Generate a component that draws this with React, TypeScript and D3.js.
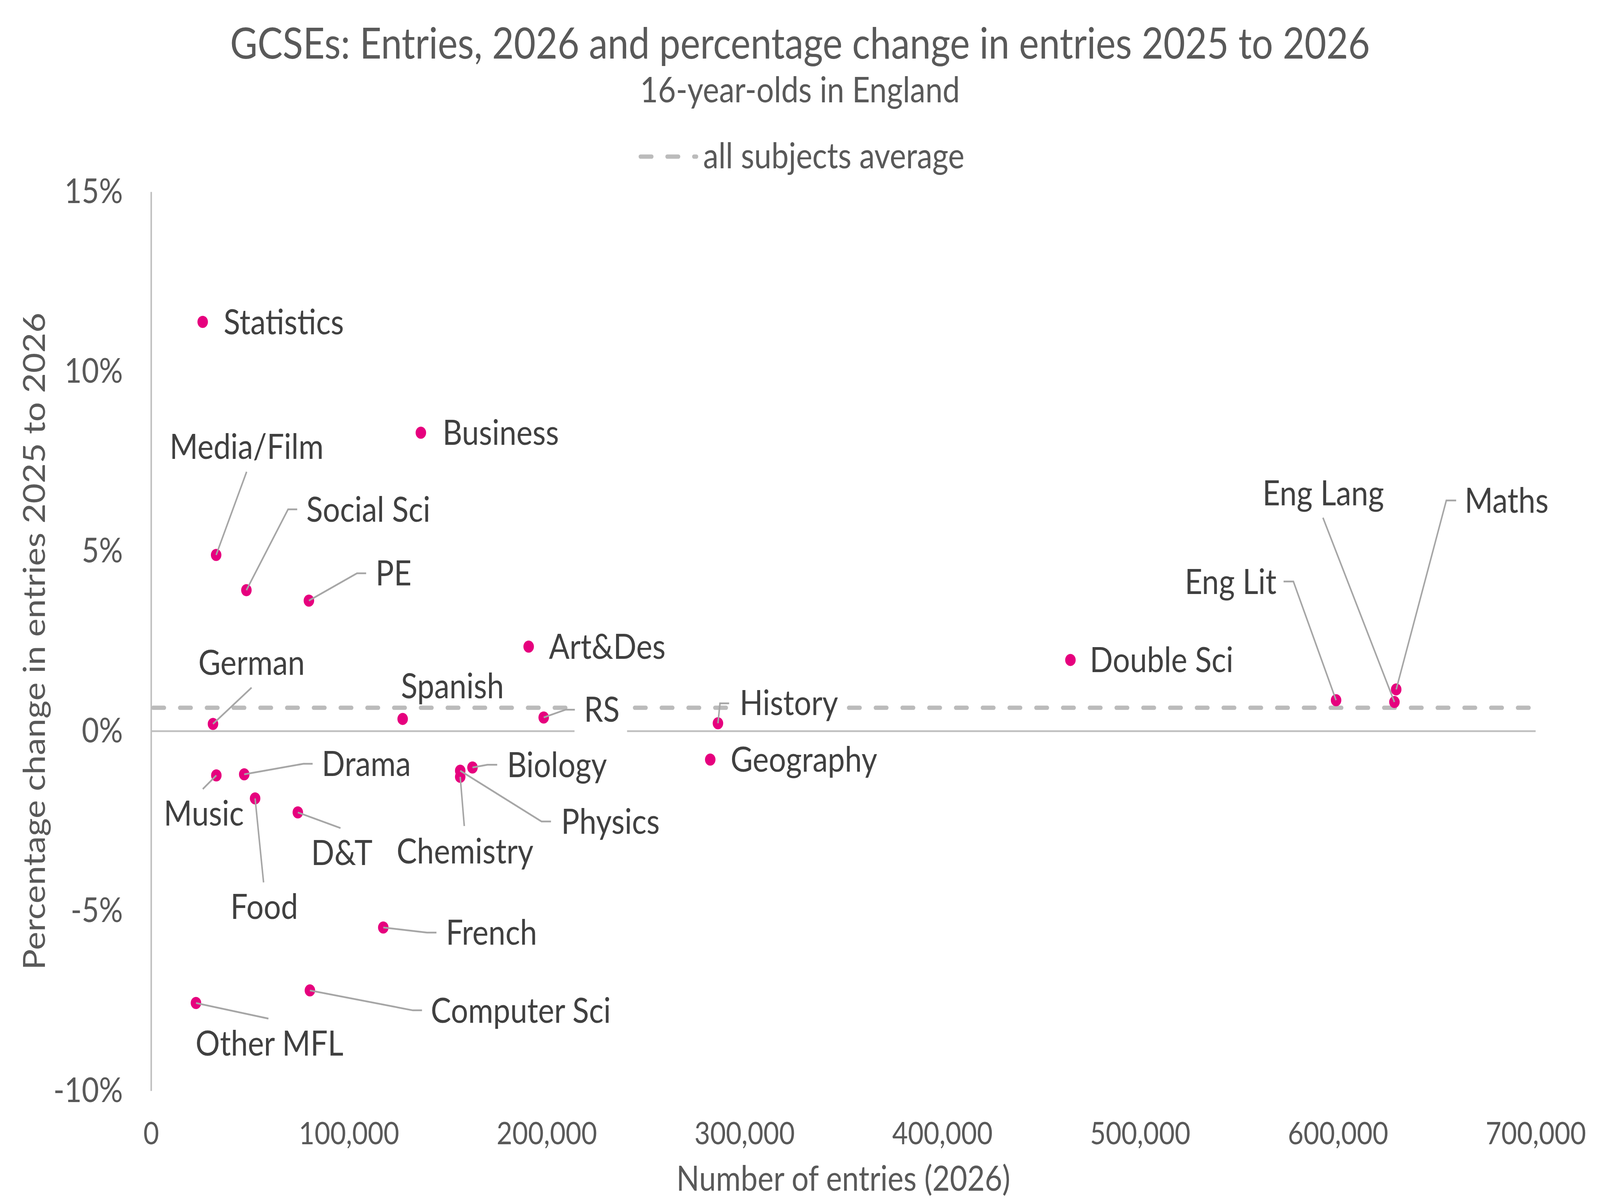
import React, { useEffect, useRef } from "react"
import * as d3 from "d3"

// GCSE entries 2026 and % change 2025 -> 2026, 16-year-olds in England
const subjects = [
  "Statistics", "Business", "Media/Film", "Social Sci", "PE", "Art&Des",
  "German", "Spanish", "RS", "History", "Geography", "Double Sci",
  "Eng Lit", "Eng Lang", "Maths", "Music", "Drama", "Food", "D&T",
  "Biology", "Physics", "Chemistry", "French", "Computer Sci", "Other MFL",
]
const entries = [
  26100, 136400, 32900, 48200, 79800, 190900,
  31300, 127200, 198500, 286600, 282700, 464800,
  599100, 628600, 629500, 33000, 47100, 52600, 74200,
  162500, 156300, 156300, 117400, 80300, 22700,
]
const pctChange = [
  11.38, 8.3, 4.9, 3.92, 3.63, 2.35,
  0.2, 0.34, 0.38, 0.22, -0.79, 1.98,
  0.86, 0.81, 1.16, -1.23, -1.2, -1.87, -2.26,
  -1.01, -1.1, -1.27, -5.46, -7.21, -7.56,
]
const averageChange = 0.65

const xTicks = [0, 100000, 200000, 300000, 400000, 500000, 600000, 700000]
const yTicks = [-10, -5, 0, 5, 10, 15]

const W = 4724
const H = 3083

type Layout = {
  dx: number
  dy: number
  anchor: "start" | "middle" | "end"
  leader?: [number, number][]
  mask?: boolean
}

// label placement relative to the point, in px
const labelLayout: Record<string, Layout> = {
  Statistics: { dx: 62, dy: 0, anchor: "start" },
  Business: { dx: 64, dy: 0, anchor: "start" },
  "Media/Film": { dx: 90, dy: -277, anchor: "middle", leader: [[0, 0], [90, -213]] },
  "Social Sci": { dx: 177, dy: -207, anchor: "start", leader: [[0, 0], [123, -207], [150, -207]] },
  PE: { dx: 197, dy: -70, anchor: "start", leader: [[0, 0], [142, -70], [169, -70]] },
  "Art&Des": { dx: 60, dy: 0, anchor: "start" },
  German: { dx: 114, dy: -157, anchor: "middle", leader: [[0, 0], [114, -93]] },
  Spanish: { dx: 147, dy: -84, anchor: "middle" },
  RS: { dx: 119, dy: -21, anchor: "start", leader: [[0, 0], [65, -20], [92, -20]], mask: true },
  History: { dx: 64, dy: -52, anchor: "start", leader: [[0, 0], [6, -51], [33, -51]], mask: true },
  Geography: { dx: 60, dy: 0, anchor: "start" },
  "Double Sci": { dx: 57, dy: 0, anchor: "start" },
  "Eng Lit": { dx: -176, dy: -304, anchor: "end", leader: [[0, 0], [-126, -304], [-155, -304]] },
  "Eng Lang": { dx: -210, dy: -535, anchor: "middle", leader: [[0, 0], [-211, -472]] },
  Maths: { dx: 202, dy: -484, anchor: "start", leader: [[0, 0], [148, -484], [177, -484]] },
  Music: { dx: -37, dy: 97, anchor: "middle", leader: [[0, 0], [-40, 35]] },
  Drama: { dx: 229, dy: -27, anchor: "start", leader: [[0, 0], [175, -27], [202, -27]] },
  Food: { dx: 27, dy: 277, anchor: "middle", leader: [[0, 0], [25, 215]] },
  "D&T": { dx: 130, dy: 103, anchor: "middle", leader: [[0, 0], [126, 40]] },
  Biology: { dx: 102, dy: -7, anchor: "start", leader: [[0, 0], [44, -7], [73, -7]] },
  Physics: { dx: 298, dy: 130, anchor: "start", leader: [[0, 0], [240, 130], [268, 130]] },
  Chemistry: { dx: 14, dy: 190, anchor: "middle", leader: [[0, 0], [12, 126]] },
  French: { dx: 185, dy: 13, anchor: "start", leader: [[0, 0], [129, 13], [157, 13]] },
  "Computer Sci": { dx: 357, dy: 51, anchor: "start", leader: [[0, 0], [304, 51], [331, 51]] },
  "Other MFL": { dx: 217, dy: 103, anchor: "middle", leader: [[0, 0], [214, 40]] },
}

const FONT = "Lato, 'Open Sans', sans-serif"
const PINK = "#E6007E"
const GRID = "#BFBFBF"
const DASH = "#BBBBBB"
const LEADER = "#A6A6A6"
const GREY_TEXT = "#595959"

export default function App() {
  const ref = useRef<SVGSVGElement>(null)

  useEffect(() => {
    if (!ref.current) return
    const svg = d3.select(ref.current)
    svg.selectAll("*").remove()

    const x = d3.scaleLinear().domain([0, 700000]).range([446, 4534])
    const y = d3.scaleLinear().domain([-10, 15]).range([2793, 491])

    const data = subjects.map((name, i) => ({ name, entries: entries[i], pct: pctChange[i] }))

    svg.append("rect").attr("width", W).attr("height", H).attr("fill", "#ffffff")

    // titles
    svg.append("text")
      .attr("x", 2362).attr("y", 150)
      .attr("text-anchor", "middle")
      .attr("font-size", 111).attr("fill", GREY_TEXT)
      .text("GCSEs: Entries, 2026 and percentage change in entries 2025 to 2026")
    svg.append("text")
      .attr("x", 2362).attr("y", 262)
      .attr("text-anchor", "middle")
      .attr("font-size", 91).attr("fill", GREY_TEXT)
      .text("16-year-olds in England")

    // legend
    svg.append("line")
      .attr("x1", 1891).attr("x2", 2056)
      .attr("y1", 401).attr("y2", 401)
      .attr("stroke", DASH).attr("stroke-width", 11)
      .attr("stroke-linecap", "round")
      .attr("stroke-dasharray", "33 46")
    svg.append("text")
      .attr("x", 2076).attr("y", 431)
      .attr("font-size", 91).attr("fill", GREY_TEXT)
      .text("all subjects average")

    // axes
    const yAxis = svg.append("g")
      .attr("transform", `translate(${x(0)},0)`)
      .call(d3.axisLeft(y).tickValues(yTicks).tickSize(0).tickSizeOuter(0).tickPadding(83)
        .tickFormat((d) => `${d}%`))
    yAxis.select(".domain").attr("stroke", GRID).attr("stroke-width", 4.5)
    yAxis.selectAll("text").attr("font-size", 88).attr("fill", GREY_TEXT).attr("font-family", FONT)

    const xAxis = svg.append("g")
      .attr("transform", `translate(0,${y(-10)})`)
      .call(d3.axisBottom(x).tickValues(xTicks).tickSize(0).tickPadding(80)
        .tickFormat((d) => d3.format(",")(d as number)))
    xAxis.select(".domain").remove()
    xAxis.selectAll("text").attr("font-size", 80).attr("fill", GREY_TEXT).attr("font-family", FONT)

    svg.append("text")
      .attr("x", (x(0) + x(700000)) / 2).attr("y", 3049)
      .attr("text-anchor", "middle")
      .attr("font-size", 89).attr("fill", GREY_TEXT)
      .text("Number of entries (2026)")
    svg.append("text")
      .attr("transform", `translate(133,${(y(15) + y(-10)) / 2}) rotate(-90)`)
      .attr("text-anchor", "middle")
      .attr("font-size", 89).attr("fill", GREY_TEXT)
      .text("Percentage change in entries 2025 to 2026")

    // zero line and average line
    svg.append("line")
      .attr("x1", x(0)).attr("x2", x(700000))
      .attr("y1", y(0)).attr("y2", y(0))
      .attr("stroke", GRID).attr("stroke-width", 4.5)
    svg.append("line")
      .attr("x1", x(0) + 6).attr("x2", x(700000))
      .attr("y1", y(averageChange)).attr("y2", y(averageChange))
      .attr("stroke", DASH).attr("stroke-width", 11)
      .attr("stroke-linecap", "round")
      .attr("stroke-dasharray", "33 46")

    const maskG = svg.append("g")
    const dotG = svg.append("g")
    const leaderG = svg.append("g")
    const labelG = svg.append("g")

    const line = d3.line<[number, number]>()

    dotG.selectAll("circle")
      .data(data)
      .join("circle")
      .attr("cx", (d) => x(d.entries))
      .attr("cy", (d) => y(d.pct))
      .attr("r", 15.5)
      .attr("fill", PINK)

    data.forEach((d) => {
      const px = x(d.entries)
      const py = y(d.pct)
      const lay = labelLayout[d.name]
      if (lay.leader) {
        leaderG.append("path")
          .attr("d", line(lay.leader.map(([a, b]) => [px + a, py + b]) as [number, number][]))
          .attr("fill", "none").attr("stroke", LEADER).attr("stroke-width", 4.5)
      }
      const t = labelG.append("text")
        .attr("x", px + lay.dx).attr("y", py + lay.dy)
        .attr("dy", "0.35em")
        .attr("text-anchor", lay.anchor)
        .attr("font-size", 90).attr("fill", "#404040")
        .text(d.name)
      if (lay.mask) {
        const bb = (t.node() as SVGTextElement).getBBox()
        maskG.append("rect")
          .attr("x", bb.x - 28).attr("width", bb.width + 50)
          .attr("y", py + lay.dy - 62).attr("height", 124)
          .attr("fill", "#ffffff")
      }
    })
  }, [])

  // the viewport may not be exactly 4724x3083, so stretch the drawing to fill it
  return (
    <svg
      ref={ref}
      viewBox={`0 0 ${W} ${H}`}
      preserveAspectRatio="none"
      style={{
        position: "fixed",
        left: 0,
        top: 0,
        width: "100vw",
        height: "100vh",
        display: "block",
        background: "#ffffff",
        fontFamily: FONT,
      }}
    />
  )
}
